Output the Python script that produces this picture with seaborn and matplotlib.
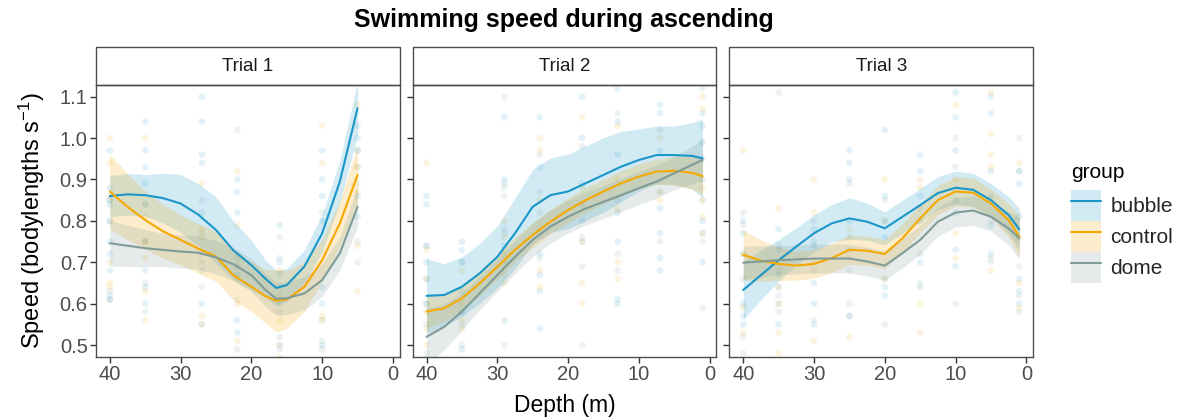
import pandas as pd
import seaborn as sns
import matplotlib.pyplot as plt
from matplotlib.patches import Patch, Rectangle
from matplotlib.lines import Line2D

groups = ['bubble', 'control', 'dome']
colors = {'bubble': '#1a97c8', 'control': '#f5a800', 'dome': '#7f9c98'}
trials = ['Trial 1', 'Trial 2', 'Trial 3']

# smoothed fits: depth knots, fitted speed, half width of the ribbon
depth_t1 = [40, 37.5, 35, 32.5, 30, 27.5, 25, 22.5, 20, 18, 16.5, 15, 12.5, 10, 7.5, 5]
fit_t1_bubble = [0.860, 0.864, 0.862, 0.855, 0.842, 0.815, 0.778, 0.728, 0.693, 0.660, 0.638, 0.645, 0.690, 0.770, 0.895, 1.072]
fit_t1_control = [0.871, 0.834, 0.802, 0.775, 0.754, 0.733, 0.714, 0.668, 0.641, 0.618, 0.607, 0.610, 0.641, 0.705, 0.794, 0.911]
fit_t1_dome = [0.746, 0.740, 0.734, 0.730, 0.726, 0.723, 0.712, 0.695, 0.669, 0.633, 0.612, 0.613, 0.625, 0.657, 0.722, 0.834]
se_t1_bubble = [0.05, 0.05, 0.05, 0.06, 0.07, 0.075, 0.08, 0.07, 0.06, 0.045, 0.042, 0.04, 0.04, 0.045, 0.05, 0.065]
se_t1_control = [0.09, 0.08, 0.07, 0.065, 0.06, 0.06, 0.06, 0.06, 0.06, 0.065, 0.075, 0.07, 0.06, 0.05, 0.055, 0.07]
se_t1_dome = [0.055, 0.05, 0.045, 0.04, 0.04, 0.04, 0.04, 0.04, 0.04, 0.04, 0.04, 0.04, 0.04, 0.04, 0.04, 0.05]

depth_t2 = [40, 37.5, 35, 32.5, 30, 27.5, 25, 22.5, 20, 17.5, 15, 12.5, 10, 7.5, 5, 2.5, 1]
fit_t2_bubble = [0.619, 0.621, 0.641, 0.673, 0.713, 0.770, 0.834, 0.862, 0.871, 0.891, 0.911, 0.931, 0.947, 0.959, 0.959, 0.957, 0.951]
fit_t2_control = [0.581, 0.589, 0.613, 0.649, 0.689, 0.730, 0.766, 0.798, 0.826, 0.850, 0.871, 0.891, 0.907, 0.919, 0.921, 0.916, 0.908]
fit_t2_dome = [0.520, 0.544, 0.581, 0.625, 0.669, 0.713, 0.754, 0.786, 0.810, 0.830, 0.846, 0.862, 0.879, 0.895, 0.915, 0.935, 0.947]
se_t2_bubble = [0.09, 0.075, 0.072, 0.072, 0.075, 0.085, 0.09, 0.09, 0.09, 0.09, 0.09, 0.085, 0.075, 0.07, 0.07, 0.08, 0.095]
se_t2_control = [0.04, 0.032, 0.03, 0.03, 0.03, 0.03, 0.03, 0.03, 0.03, 0.03, 0.03, 0.03, 0.03, 0.03, 0.035, 0.04, 0.045]
se_t2_dome = [0.07, 0.055, 0.045, 0.04, 0.04, 0.04, 0.04, 0.04, 0.04, 0.04, 0.04, 0.04, 0.04, 0.04, 0.04, 0.045, 0.05]

depth_t3 = [40, 37.5, 35, 32.5, 30, 27.5, 25, 22.5, 20, 17.5, 15, 12.5, 10, 7.5, 5, 2.5, 1]
fit_t3_bubble = [0.633, 0.669, 0.705, 0.738, 0.770, 0.794, 0.806, 0.798, 0.782, 0.810, 0.838, 0.867, 0.880, 0.875, 0.850, 0.814, 0.780]
fit_t3_control = [0.718, 0.704, 0.696, 0.692, 0.696, 0.710, 0.730, 0.728, 0.720, 0.758, 0.806, 0.850, 0.871, 0.868, 0.842, 0.802, 0.762]
fit_t3_dome = [0.699, 0.702, 0.705, 0.707, 0.709, 0.709, 0.709, 0.702, 0.692, 0.722, 0.754, 0.798, 0.820, 0.825, 0.810, 0.782, 0.758]
se_t3_bubble = [0.07, 0.06, 0.05, 0.045, 0.045, 0.045, 0.05, 0.045, 0.04, 0.04, 0.04, 0.04, 0.04, 0.04, 0.04, 0.045, 0.05]
se_t3_control = [0.06, 0.05, 0.04, 0.035, 0.035, 0.035, 0.035, 0.035, 0.035, 0.035, 0.035, 0.035, 0.035, 0.035, 0.035, 0.04, 0.05]
se_t3_dome = [0.04, 0.038, 0.035, 0.035, 0.035, 0.035, 0.035, 0.035, 0.035, 0.035, 0.035, 0.035, 0.035, 0.035, 0.035, 0.04, 0.05]

# raw observations, grouped by sampling depth
pts_t1_bubble = {40: [0.97, 0.88, 0.85, 0.84, 0.80, 0.75, 0.72, 0.68, 0.62, 0.61],
                 35: [1.04, 0.97, 0.93, 0.89, 0.84, 0.75, 0.68, 0.64, 0.60],
                 27: [1.10, 1.04, 0.96, 0.94, 0.82, 0.72, 0.68, 0.60, 0.55],
                 22: [0.90, 0.87, 0.82, 0.67, 0.56, 0.53],
                 16: [0.79, 0.70, 0.67, 0.60, 0.50],
                 10: [0.97, 0.90, 0.86, 0.80, 0.64, 0.60, 0.50],
                 5: [1.03, 1.00, 0.97, 0.93, 0.86, 0.81]}
pts_t1_control = {40: [1.00, 0.94, 0.86, 0.70, 0.65, 0.64],
                  35: [1.00, 0.81, 0.75, 0.71, 0.56, 0.63],
                  27: [0.89, 0.78, 0.76, 0.57, 0.55],
                  22: [0.92, 0.79, 0.72, 0.66, 0.60, 0.51],
                  16: [0.68, 0.62, 0.56, 0.50, 0.47],
                  10: [1.03, 0.94, 0.57, 0.56],
                  5: [1.08, 0.93, 0.87, 0.74, 0.63]}
pts_t1_dome = {40: [0.85, 0.80, 0.61, 0.63],
               35: [0.84, 0.75, 0.65, 0.58],
               27: [0.85, 0.77, 0.70, 0.64],
               22: [1.02, 0.71, 0.69, 0.61, 0.49],
               16: [0.76, 0.71, 0.64, 0.58, 0.52, 0.49],
               10: [0.82, 0.56, 0.51, 0.49],
               5: [0.97, 0.89, 0.75, 0.70]}

pts_t2_bubble = {40: [0.86, 0.84, 0.74, 0.70, 0.66, 0.60],
                 35: [0.75, 0.73, 0.70, 0.63, 0.58, 0.49],
                 29: [1.05, 0.90, 0.89, 0.74, 0.56],
                 24: [1.05, 0.93, 0.72, 0.67, 0.63, 0.54],
                 18: [1.10, 1.00, 0.89, 0.80, 0.75],
                 13: [1.12, 1.04, 0.96, 0.82, 0.75, 0.61, 0.60],
                 7: [1.08, 1.06, 0.97, 0.83, 0.77, 0.71, 0.68],
                 1: [1.06, 1.03, 0.99, 0.95, 0.80, 0.77, 0.70]}
pts_t2_control = {40: [0.94, 0.73, 0.66, 0.58, 0.54, 0.50],
                  35: [0.68, 0.60, 0.56, 0.54],
                  29: [0.80, 0.76, 0.72, 0.67, 0.65],
                  24: [1.00, 0.97, 0.85, 0.78, 0.68, 0.64],
                  18: [1.05, 0.88, 0.75, 0.65, 0.60],
                  13: [1.03, 0.90, 0.83, 0.70, 0.66],
                  7: [1.00, 0.87, 0.85],
                  1: [1.10, 1.07, 0.88, 0.85, 0.81, 0.77]}
pts_t2_dome = {40: [0.74, 0.60, 0.55, 0.48],
               35: [0.70, 0.58, 0.55, 0.50],
               29: [1.10, 0.88, 0.86, 0.78, 0.77, 0.70, 0.50],
               24: [0.96, 0.87, 0.82, 0.71],
               18: [0.98, 0.84, 0.76, 0.69, 0.50],
               13: [1.06, 0.85, 0.72, 0.68],
               7: [1.02, 0.87, 0.75],
               1: [1.12, 0.90, 0.85, 0.75, 0.59]}

pts_t3_bubble = {40: [0.80, 0.77, 0.72, 0.60, 0.57, 0.55],
                 35: [0.78, 0.73, 0.67, 0.64, 0.60, 0.55],
                 30: [0.78, 0.74, 0.65, 0.60, 0.55],
                 25: [0.97, 0.94, 0.90, 0.80, 0.73, 0.57],
                 20: [1.02, 0.86, 0.80, 0.76, 0.64, 0.62],
                 15: [0.96, 0.92, 0.86, 0.80, 0.70, 0.64],
                 10: [1.11, 1.05, 0.97, 0.82, 0.73, 0.69],
                 5: [1.10, 1.06, 0.92, 0.86, 0.79, 0.72],
                 1: [0.92, 0.89, 0.81, 0.66, 0.63, 0.60]}
pts_t3_control = {40: [0.97, 0.72, 0.59, 0.53],
                  35: [0.83, 0.64, 0.60, 0.53, 0.48],
                  30: [0.90, 0.82, 0.70, 0.51],
                  25: [0.78, 0.71, 0.52],
                  20: [0.90, 0.80, 0.66],
                  15: [0.90, 0.88, 0.60, 0.53],
                  10: [1.08, 0.90, 0.77, 0.71],
                  5: [1.11, 1.01, 0.96, 0.93, 0.68],
                  1: [0.94, 0.76, 0.65, 0.59]}
pts_t3_dome = {40: [0.82, 0.79, 0.66, 0.48, 0.52],
               35: [1.11, 0.74, 0.68, 0.62, 0.58],
               30: [0.80, 0.75, 0.68, 0.56],
               25: [0.89, 0.76, 0.68, 0.60, 0.57],
               20: [0.85, 0.66, 0.55],
               15: [0.83, 0.72, 0.65],
               10: [1.00, 0.93, 0.85, 0.60],
               5: [0.85, 0.80, 0.71, 0.70],
               1: [1.00, 0.92, 0.69, 0.62, 0.58]}

fits = {
    'Trial 1': (depth_t1, {'bubble': (fit_t1_bubble, se_t1_bubble),
                           'control': (fit_t1_control, se_t1_control),
                           'dome': (fit_t1_dome, se_t1_dome)}),
    'Trial 2': (depth_t2, {'bubble': (fit_t2_bubble, se_t2_bubble),
                           'control': (fit_t2_control, se_t2_control),
                           'dome': (fit_t2_dome, se_t2_dome)}),
    'Trial 3': (depth_t3, {'bubble': (fit_t3_bubble, se_t3_bubble),
                           'control': (fit_t3_control, se_t3_control),
                           'dome': (fit_t3_dome, se_t3_dome)}),
}
points = {
    'Trial 1': {'bubble': pts_t1_bubble, 'control': pts_t1_control, 'dome': pts_t1_dome},
    'Trial 2': {'bubble': pts_t2_bubble, 'control': pts_t2_control, 'dome': pts_t2_dome},
    'Trial 3': {'bubble': pts_t3_bubble, 'control': pts_t3_control, 'dome': pts_t3_dome},
}

fit_rows = []
for trial, (depths, by_group) in fits.items():
    for g, (fit, se) in by_group.items():
        for d, f, s in zip(depths, fit, se):
            fit_rows.append({'trial': trial, 'group': g, 'depth': d,
                             'speed': f, 'lo': f - s, 'hi': f + s})
fit_df = pd.DataFrame(fit_rows)

pt_rows = []
for trial, by_group in points.items():
    for g, by_depth in by_group.items():
        for d, vals in by_depth.items():
            for v in vals:
                pt_rows.append({'trial': trial, 'group': g, 'depth': d, 'speed': v})
pt_df = pd.DataFrame(pt_rows)

sns.set_style('white')
plt.rcParams['font.family'] = ['Liberation Sans', 'DejaVu Sans']
plt.rcParams['mathtext.default'] = 'regular'

fig, axes = plt.subplots(1, 3, figsize=(11.84, 4.19), dpi=100, sharey=True)
fig.subplots_adjust(left=0.0811, right=0.8725, bottom=0.1487, top=0.797, wspace=0.043)

for ax, trial in zip(axes, trials):
    sns.scatterplot(data=pt_df[pt_df.trial == trial], x='depth', y='speed', hue='group',
                    palette=colors, hue_order=groups, alpha=0.12, s=24, linewidth=0,
                    legend=False, ax=ax)
    sub = fit_df[fit_df.trial == trial]
    for g in groups:
        gs = sub[sub.group == g]
        ax.fill_between(gs.depth, gs.lo, gs.hi, color=colors[g], alpha=0.2, linewidth=0)
    sns.lineplot(data=sub, x='depth', y='speed', hue='group', palette=colors,
                 hue_order=groups, estimator=None, linewidth=1.5, legend=False, ax=ax)

    ax.set_xlim(41.95, -0.95)
    ax.set_ylim(0.472, 1.128)
    ax.set_xticks([40, 30, 20, 10, 0])
    ax.set_yticks([0.5, 0.6, 0.7, 0.8, 0.9, 1.0, 1.1])
    ax.set_yticklabels(['0.5', '0.6', '0.7', '0.8', '0.9', '1.0', '1.1'])
    ax.tick_params(axis='both', length=4, width=1.0, color='#333333',
                   labelsize=14.5, labelcolor='#4d4d4d', pad=2)
    ax.tick_params(axis='y', left=True)
    ax.tick_params(axis='x', bottom=True)
    for sp in ax.spines.values():
        sp.set_color('#4d4d4d')
        sp.set_linewidth(1.0)
    ax.set_xlabel('')
    ax.set_ylabel('')

    strip_h = 38 / 271.7
    ax.add_patch(Rectangle((0, 1.0), 1, strip_h, transform=ax.transAxes, clip_on=False,
                           facecolor='white', edgecolor='#4d4d4d', linewidth=1.0))
    ax.text(0.5, 1.0 + strip_h / 2, trial, transform=ax.transAxes, ha='center',
            va='center', fontsize=13.5, color='#1a1a1a')

axes[0].set_ylabel('Speed (bodylengths s$^{-1}$)', fontsize=17, labelpad=9, color='black')
axes[1].set_xlabel('Depth (m)', fontsize=16.5, labelpad=7, color='black')

fig.suptitle('Swimming speed during ascending', x=0.476, y=0.952, va='center',
             fontsize=18, fontweight='bold', color='black')

# legend: title as separate text so the gap above the keys matches
fig.text(1071 / 1184, 1 - 172 / 419, 'group', fontsize=15, ha='left', va='center',
         color='black')
handles = [(Patch(facecolor=colors[g], alpha=0.2, linewidth=0),
            Line2D([], [], color=colors[g], linewidth=1.5)) for g in groups]
fig.legend(handles, groups, loc='upper left',
           bbox_to_anchor=(1071 / 1184, 1 - 190 / 419), frameon=False, fontsize=15,
           handlelength=1.45, handleheight=1.9, borderpad=0, borderaxespad=0,
           handletextpad=0.45, labelspacing=0.0)

fig.savefig('out.png', dpi=100)
